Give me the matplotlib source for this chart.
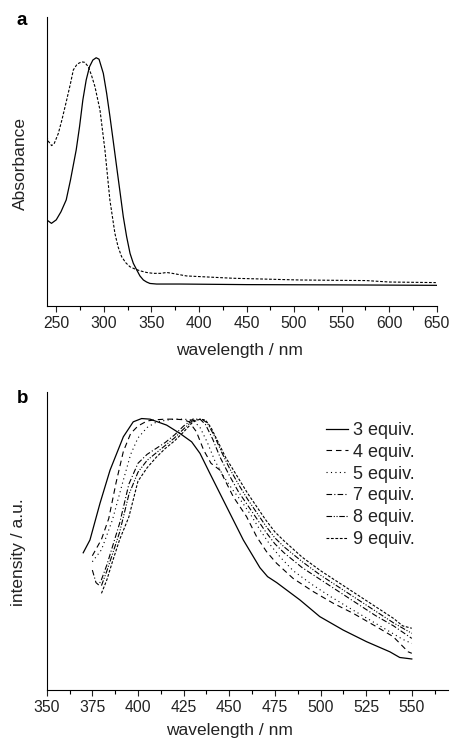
import matplotlib
matplotlib.use('Agg')
import matplotlib.pyplot as plt
from matplotlib.ticker import MultipleLocator

plt.rcParams['font.family'] = ['Liberation Sans', 'DejaVu Sans']

# panel a: absorbance (arbitrary units)
abs_solid_nm = [240, 245, 250, 255, 260.5, 265, 268, 271, 274.5, 278, 281.5, 285, 288.5, 292, 295,
                299.5, 303, 306.5, 310, 313.5, 317, 320.5, 324, 327.6, 331, 334.6, 338, 341.6, 345,
                348.5, 355.5, 380, 450, 550, 650]
abs_solid = [0.298, 0.286, 0.298, 0.326, 0.367, 0.436, 0.488, 0.540, 0.620, 0.713, 0.782, 0.828, 0.851,
             0.859, 0.854, 0.805, 0.736, 0.655, 0.569, 0.482, 0.396, 0.309, 0.240, 0.182, 0.148, 0.125,
             0.104, 0.090, 0.083, 0.078, 0.076, 0.076, 0.074, 0.073, 0.0715]

abs_dash_nm = [240, 242, 245.2, 248, 252.2, 256, 261, 265, 268, 272, 276.7, 280, 283.7, 287, 290.7, 296,
               301.2, 306.4, 311.7, 315, 318.7, 323, 327.4, 332, 337.9, 345, 351.9, 360, 366, 372,
               386.9, 435.8, 505.7, 575.7, 600, 649]
abs_dash = [0.586, 0.569, 0.555, 0.563, 0.597, 0.644, 0.713, 0.770, 0.817, 0.837, 0.845, 0.843, 0.828,
            0.799, 0.759, 0.678, 0.540, 0.367, 0.251, 0.205, 0.171, 0.150, 0.136, 0.129, 0.122, 0.116,
            0.113, 0.113, 0.116, 0.113, 0.104, 0.096, 0.090, 0.088, 0.083, 0.081]

# panel b: emission spectra (arbitrary units)
em_labels = ['3 equiv.', '4 equiv.', '5 equiv.', '7 equiv.', '8 equiv.', '9 equiv.']

em3_nm = [370, 373.7, 379.2, 384.7, 392, 397.4, 402, 406.6, 415.7, 423, 429.4, 434, 439.4, 448.5, 457.7,
          466.8, 471, 476, 488.7, 499.6, 512.4, 525.2, 538, 543.4, 550]
em3 = [46.0, 50.3, 62.6, 73.7, 84.9, 89.9, 91.0, 90.8, 88.8, 86.0, 83.2, 79.3, 72.6, 61.5, 50.3,
       41.0, 38.0, 36.0, 30.2, 24.6, 20.1, 16.2, 12.8, 10.9, 10.4]

em4_nm = [375, 380, 384, 388, 392, 396, 400, 405, 410, 415, 420, 425, 428, 432, 436, 440, 444.9, 452.2,
          459.5, 465, 470.4, 475.9, 485, 496, 506.9, 517.9, 530.7, 539.8, 548, 550]
em4 = [45.0, 50.5, 57.5, 69.5, 80.0, 86.0, 88.5, 90.2, 90.6, 90.8, 90.8, 90.6, 89.9, 86.6, 80.4, 76.0,
       73.7, 64.8, 58.1, 51.4, 46.4, 42.5, 37.4, 33.0, 29.1, 25.7, 21.2, 17.9, 12.8, 12.3]

em5_nm = [375, 380, 386, 392, 396, 400, 405, 410, 415, 420, 425, 430, 434, 438, 442, 447, 452, 457, 462,
          467, 472, 478, 485, 495, 505, 515, 525, 535, 545, 550]
em5 = [43.0, 47.0, 57.0, 70.4, 79.0, 84.5, 88.0, 89.8, 90.4, 90.8, 90.8, 90.5, 88.0, 83.0, 77.0, 71.5,
       67.0, 63.0, 58.5, 53.5, 49.0, 44.5, 40.0, 35.5, 31.5, 27.8, 24.2, 20.6, 17.0, 15.6]

em7_nm = [375, 377, 378.5, 380, 383, 386, 390, 395, 400, 405, 410, 415, 420, 425, 430, 434, 437, 441,
          445, 450, 455, 460, 465, 470, 475, 480, 490, 500, 510, 520, 530, 540, 550]
em7 = [40.2, 36.0, 35.2, 37.0, 42.0, 48.0, 56.0, 69.0, 76.0, 79.0, 81.0, 83.0, 85.5, 88.5, 90.8, 90.8,
       89.0, 84.0, 78.0, 72.0, 66.5, 62.0, 57.5, 53.0, 49.0, 46.0, 41.0, 37.0, 33.0, 29.0, 25.0, 21.5, 17.3]

em8_nm = [380, 383, 386, 390, 395, 400, 405, 410, 415, 420, 425, 430, 435, 438, 442, 446, 450, 455, 460,
          465, 470, 475, 480, 490, 500, 510, 520, 530, 540, 550]
em8 = [35.0, 40.0, 45.5, 53.0, 65.5, 73.0, 77.0, 79.5, 82.0, 84.5, 87.5, 90.3, 90.8, 89.5, 85.0, 79.5,
       74.5, 69.0, 64.0, 59.5, 55.0, 51.0, 48.0, 43.0, 38.5, 34.5, 30.5, 26.5, 22.5, 19.0]

em9_nm = [380, 383, 386, 390, 395, 400, 405, 410, 415, 420, 425, 430, 434, 437, 440, 444, 448, 452, 456,
          460, 465, 470, 475, 480, 490, 500, 510, 520, 530, 540, 545, 550]
em9 = [32.4, 37.0, 43.0, 50.5, 58.0, 70.0, 74.5, 78.0, 81.0, 83.5, 86.5, 89.8, 90.8, 90.5, 88.0, 83.0,
       78.0, 74.0, 70.0, 66.0, 61.5, 57.0, 53.0, 50.0, 44.5, 40.0, 36.0, 32.0, 28.0, 24.0, 21.5, 20.7]

em_x = [em3_nm, em4_nm, em5_nm, em7_nm, em8_nm, em9_nm]
em_y = [em3, em4, em5, em7, em8, em9]
em_styles = ['-', (0, (5, 3.5)), (0, (1, 3)), (0, (5, 2, 1, 2)), (0, (5, 1.5, 1, 1.5, 1, 1.5)),
             (0, (2.5, 1.5))]

W, H = 451, 740
fig = plt.figure(figsize=(W / 100, H / 100), dpi=100)


def setup_axis(ax, xmin, xmax, major, minor):
    ax.set_xlim(xmin, xmax)
    ax.xaxis.set_major_locator(MultipleLocator(major))
    ax.xaxis.set_minor_locator(MultipleLocator(minor))
    ax.set_yticks([])
    for s in ['top', 'right']:
        ax.spines[s].set_visible(False)
    for s in ['left', 'bottom']:
        ax.spines[s].set_linewidth(0.8)
    ax.tick_params(axis='x', which='major', length=4, width=0.8, labelsize=11.3, pad=3,
                   direction='out', colors='#222222')
    ax.tick_params(axis='x', which='minor', length=3, width=0.8, direction='out')


# ---- panel a ----
ax1 = fig.add_axes([46.7 / W, 1 - 306 / H, (436.8 - 46.7) / W, (306 - 17) / H])
ax1.plot(abs_solid_nm, abs_solid, color='black', lw=0.9)
ax1.plot(abs_dash_nm, abs_dash, color='black', lw=0.8, ls=(0, (2.5, 1.5)))
setup_axis(ax1, 240, 650, 50, 25)
ax1.set_ylim(0, 1.0)
fig.text(20 / W, 1 - 164 / H, 'Absorbance', rotation=90, ha='center', va='center', fontsize=12.5,
         color='#222222')
fig.text(239 / W, 1 - 350 / H, 'wavelength / nm', ha='center', va='center', fontsize=12.5,
         color='#222222')
fig.text(16.5 / W, 1 - 25 / H, 'a', fontsize=13.5, fontweight='bold', ha='left', va='baseline')

# ---- panel b ----
ax2 = fig.add_axes([46.7 / W, 1 - 690 / H, (448.3 - 46.7) / W, (690 - 391.7) / H])
for xs, ys, st, lab in zip(em_x, em_y, em_styles, em_labels):
    ax2.plot(xs, ys, color='black', lw=0.9 if st == '-' else 0.8, ls=st, label=lab)
setup_axis(ax2, 350, 570, 25, 12.5)
ax2.set_ylim(0, 100)
leg = ax2.legend(loc='upper left', bbox_to_anchor=((326 - 46.7) / 401.6, 0.899), frameon=False,
                 fontsize=13, handlelength=1.22, handletextpad=0.28, labelspacing=0.27,
                 borderpad=0, borderaxespad=0)
for t in leg.get_texts():
    t.set_color('#222222')
fig.text(19 / W, 1 - 552 / H, 'intensity / a.u.', rotation=90, ha='center', va='center',
         fontsize=12.5, color='#222222')
fig.text(229 / W, 1 - 731 / H, 'wavelength / nm', ha='center', va='center', fontsize=12.5,
         color='#222222')
fig.text(16.5 / W, 1 - 403 / H, 'b', fontsize=13.5, fontweight='bold', ha='left', va='baseline')

fig.savefig('out.png', dpi=100)
